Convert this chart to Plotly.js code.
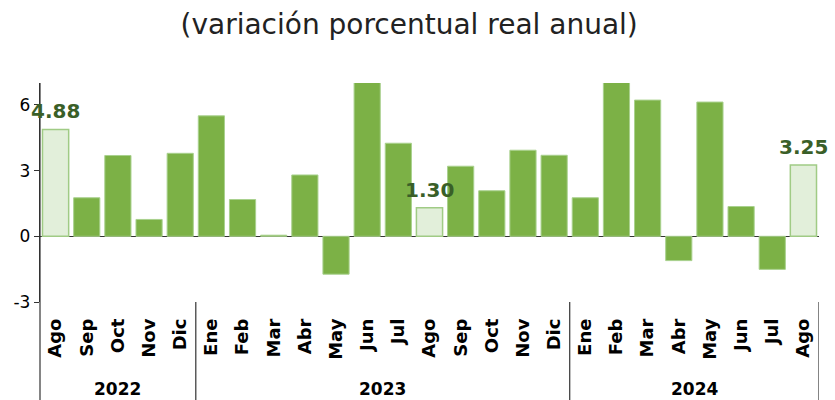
<!DOCTYPE html>
<html>
<head>
<meta charset="utf-8">
<script src="https://cdn.plot.ly/plotly-3.0.1.min.js"></script>
<style>html,body{margin:0;padding:0;background:#fff;}#chart{width:835px;height:400px;}</style>
</head>
<body>
<div id="chart"></div>
<script>
const months = ["Ago","Sep","Oct","Nov","Dic","Ene","Feb","Mar","Abr","May","Jun","Jul","Ago","Sep","Oct","Nov","Dic","Ene","Feb","Mar","Abr","May","Jun","Jul","Ago"];
const years = ["2022","2022","2022","2022","2022","2023","2023","2023","2023","2023","2023","2023","2023","2023","2023","2023","2023","2024","2024","2024","2024","2024","2024","2024","2024"];
const values = [4.88,1.76,3.69,0.77,3.79,5.50,1.68,0.05,2.80,-1.73,7.04,4.25,1.30,3.20,2.08,3.93,3.70,1.76,7.04,6.22,-1.11,6.13,1.36,-1.51,3.25];
const highlighted = [0,12,24];
const yTicks = [-3,0,3,6];

const idx = months.map((m,i)=>i);
const normalY = values.map((v,i)=> highlighted.includes(i) ? null : v);
const highY = values.map((v,i)=> highlighted.includes(i) ? v : null);

const font = "'DejaVu Sans', 'Noto Sans', sans-serif";

const traces = [
  {type:'bar', x:idx, y:normalY, marker:{color:'#7cb146', line:{color:'#a9d18e', width:1}}, hoverinfo:'skip'},
  {type:'bar', x:idx, y:highY, marker:{color:'#e2efda', line:{color:'#a0cb85', width:1.5}}, hoverinfo:'skip'}
];

// year groups
const groups = [];
years.forEach((y,i)=>{
  if(!groups.length || groups[groups.length-1].year!==y) groups.push({year:y,start:i,end:i});
  else groups[groups.length-1].end=i;
});

const shapes = [];
const annotations = [];
groups.forEach((g,k)=>{
  if(k>0){
    shapes.push({type:'line', xref:'x', yref:'paper', x0:g.start-0.5, x1:g.start-0.5, y0:-0.45, y1:0, line:{color:'#333', width:1.2}});
  }
  annotations.push({xref:'x', yref:'paper', x:(g.start+g.end)/2, y:-0.448, text:'<b>'+g.year+'</b>', showarrow:false, yanchor:'bottom', borderpad:0, font:{family:font, size:17, color:'#000'}});
});
// left axis extension & right closing line
shapes.push({type:'line', xref:'paper', yref:'paper', x0:0, x1:0, y0:-0.45, y1:1, line:{color:'#333', width:1.2}});
shapes.push({type:'line', xref:'x', yref:'paper', x0:idx.length-0.5, x1:idx.length-0.5, y0:-0.45, y1:0, line:{color:'#333', width:1.2}});

highlighted.forEach(i=>{
  annotations.push({xref:'x', yref:'y', x:i, y:values[i], text:'<b>'+values[i].toFixed(2)+'</b>', showarrow:false, yanchor:'bottom', yshift:4, font:{family:font, size:20, color:'#3a5f28'}});
});

const layout = {
  width:835, height:400,
  margin:{l:40, r:16, t:83, b:98},
  paper_bgcolor:'#fff', plot_bgcolor:'#fff',
  showlegend:false,
  barmode:'overlay',
  bargap:0.16,
  title:{text:'(variación porcentual real anual)', x:0.49, xanchor:'center', y:0.94, yanchor:'middle', font:{family:font, size:28, color:'#222'}},
  xaxis:{
    tickmode:'array', tickvals:idx, ticktext:months.map(m=>'<b>'+m+'</b>'),
    tickangle:-90, range:[-0.5, idx.length-0.5],
    showline:false, showgrid:false, zeroline:false, ticks:'',
    ticklabelstandoff:12,
    tickfont:{family:font, size:18, color:'#000'}
  },
  yaxis:{
    range:[-3,7], tickmode:'array', tickvals:yTicks, ticktext:yTicks.map(String),
    showgrid:false, zeroline:true, zerolinecolor:'#333', zerolinewidth:1.2,
    showline:true, linecolor:'#333', linewidth:1.2,
    ticks:'outside', ticklen:5, tickcolor:'#333',
    tickfont:{family:font, size:17, color:'#000'}
  },
  shapes:shapes,
  annotations:annotations
};

Plotly.newPlot('chart', traces, layout, {staticPlot:true, displayModeBar:false});
</script>
</body>
</html>
